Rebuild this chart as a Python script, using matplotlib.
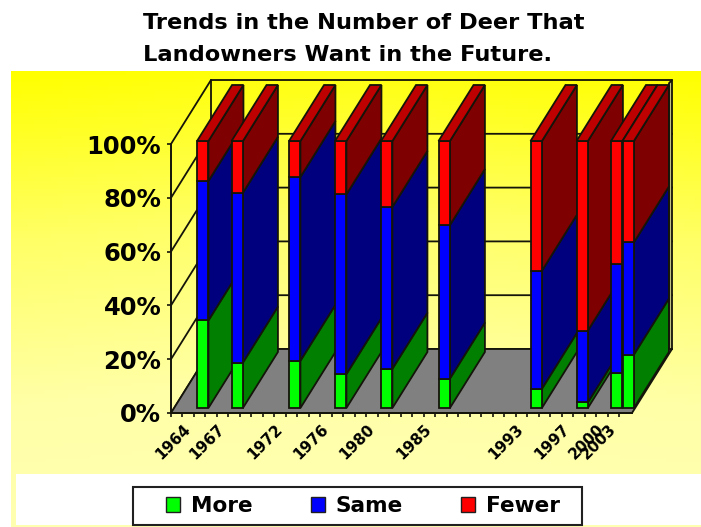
#!/usr/bin/env python3
"""Deer trend chart: oblique 3D stacked columns drawn on plain 2D axes."""

import matplotlib
matplotlib.use("Agg")
import matplotlib.pyplot as plt
import numpy as np
from matplotlib.colors import LinearSegmentedColormap
from matplotlib.patches import Patch, Polygon, Rectangle

plt.rcParams["font.family"] = ["DejaVu Sans"]

year_labels = ["1964", "1967", "1972", "1976", "1980", "1985", "1993", "1997", "2000", "2003"]
# the old chart used a date axis, 2003 sits right after 2000
axis_years = [1964, 1967, 1972, 1976, 1980, 1985, 1993, 1997, 2000, 2001]

more = [32.8, 17.0, 17.7, 12.7, 14.7, 11.0, 7.2, 2.1, 13.0, 20.0]
same = [52.2, 63.6, 68.8, 67.3, 60.6, 57.5, 44.2, 26.9, 40.8, 42.0]
fewer = [15.0, 19.4, 13.5, 20.0, 24.7, 31.5, 48.6, 71.0, 46.2, 38.0]

series_names = ["More", "Same", "Fewer"]
front_colors = ["#00ff00", "#0000ff", "#ff0000"]
side_colors = ["#007f00", "#00007f", "#7f0000"]
top_colors = ["#00bf00", "#0000bf", "#bf0000"]

W, H = 701, 527
fig = plt.figure(figsize=(W / 100, H / 100), dpi=100, facecolor="white")

# background gradient
bg = fig.add_axes([0, 0, 1, 1], zorder=0)
bg.axis("off")
cmap = LinearSegmentedColormap.from_list("y", ["#ffff00", "#ffff66", "#ffffa8", "#ffffb4"])
xx, yy = np.meshgrid(np.linspace(0, 1, 120), np.linspace(0, 1, 120))
bg.imshow(np.clip(yy * 0.9 + (0.5 - np.abs(xx - 0.5)) * 0.12, 0, 1), cmap=cmap, vmin=0, vmax=1,
          extent=(11, W, 527, 71), aspect="auto", zorder=0)
bg.fill_between([16, W], 474, 525, color="white", lw=0, zorder=1)
bg.add_patch(Rectangle((133, 487), 449, 38, facecolor="white", edgecolor="#202020", lw=1.5, zorder=2))
bg.set_xlim(0, W)
bg.set_ylim(H, 0)

# main axes = front plane of the chart box
left, right, bottom, top = 171, 632, 413, 144
ax = fig.add_axes([left / W, 1 - bottom / H, (right - left) / W, (bottom - top) / H],
                  facecolor="none", zorder=2)
ax.set_xlim(1961.26, 2001.35)
ax.set_ylim(0, 100)
for s in ax.spines.values():
    s.set_visible(False)

px_x = (right - left) / (2001.35 - 1961.26)
px_y = (bottom - top) / 100.0
depth_x = 40 / px_x
depth_y = 64 / px_y
line = "#14140a"


def poly(pts, fc, ec=line, lw=1.3, z=2):
    ax.add_patch(Polygon(pts, closed=True, facecolor=fc, edgecolor=ec, lw=lw, zorder=z,
                         clip_on=False, joinstyle="miter"))


x0, x1 = ax.get_xlim()
# floor
poly([(x0, 0), (x1, 0), (x1 + depth_x, depth_y), (x0 + depth_x, depth_y)], "#808080")
# back wall and left wall lines
ticks = [0, 20, 40, 60, 80, 100]
for t in ticks:
    ax.plot([x0, x0 + depth_x, x1 + depth_x], [t, t + depth_y, t + depth_y], color=line, lw=1.3,
            clip_on=False, zorder=1)
ax.plot([x0, x0], [0, 100], color=line, lw=1.4, clip_on=False, zorder=3)
ax.plot([x0 + depth_x] * 2, [depth_y, 100 + depth_y], color=line, lw=1.3, clip_on=False, zorder=1)
# right wall is a thin strip seen edge on
wall_w = 3 / px_x
poly([(x1 + depth_x - wall_w, depth_y - 1), (x1 + depth_x, depth_y), (x1 + depth_x, 100 + depth_y),
      (x1 + depth_x - wall_w, 100 + depth_y - 1.2)], "#c0c080", z=1)
ax.plot([x0, x1], [0, 0], color=line, lw=1.4, clip_on=False, zorder=4)

# columns, left to right is what overlaps
half = 5.7 / px_x
bar_dx = 35 / px_x
bar_dy = 56 / px_y
base = 5 / px_y
scale = 267 / 269
for i, xc in enumerate(axis_years):
    xa = xc - half + 0.02
    xb = xc + half + 0.02
    level = 0.0
    for vals, fc, sc in zip([more, same, fewer], front_colors, side_colors):
        y0 = base + level * scale
        y1 = base + (level + vals[i]) * scale
        poly([(xb, y0), (xb + bar_dx, y0 + bar_dy), (xb + bar_dx, y1 + bar_dy), (xb, y1)], sc, z=5 + i)
        poly([(xa, y0), (xb, y0), (xb, y1), (xa, y1)], fc, z=5 + i)
        level += vals[i]
    y1 = base + level * scale
    poly([(xa, y1), (xb, y1), (xb + bar_dx, y1 + bar_dy), (xa + bar_dx, y1 + bar_dy)], top_colors[2], z=5 + i)

# x ticks every year, labels only on the survey years
ax.set_xticks(np.arange(1962, 2002) - 0.74)
ax.set_xticklabels([])
ax.tick_params(axis="x", length=3, width=1.2, color=line, pad=0)
for xc, lab in zip(axis_years, year_labels):
    ax.annotate(lab, xy=(xc, 0), xytext=(-10.5, -10), textcoords="offset points", rotation=45,
                ha="right", va="center", rotation_mode="anchor", fontsize=11, fontweight="bold",
                annotation_clip=False)

ax.set_yticks(ticks)
ax.set_yticklabels([f"{t}%" for t in ticks], fontsize=17.5, fontweight="bold")
ax.tick_params(axis="y", length=3, width=1.2, color=line, pad=4)

fig.text(364 / W, 1 - 39 / H, "Trends in the Number of Deer That\nLandowners Want in the Future.",
         ha="center", va="center", multialignment="left", fontsize=16.2, fontweight="bold",
         linespacing=1.75)

handles = [Patch(facecolor=c, edgecolor="#202020", label=n) for c, n in zip(front_colors, series_names)]
fig.legend(handles=handles, ncol=3, loc="center", bbox_to_anchor=(363 / W, 1 - 506 / H),
           frameon=False, prop={"size": 15.6, "weight": "bold"}, handlelength=0.65, handleheight=0.65,
           handletextpad=0.5, columnspacing=2.7, borderpad=0, borderaxespad=0)

fig.savefig("out.png", dpi=100)
print("Saved: out.png")
